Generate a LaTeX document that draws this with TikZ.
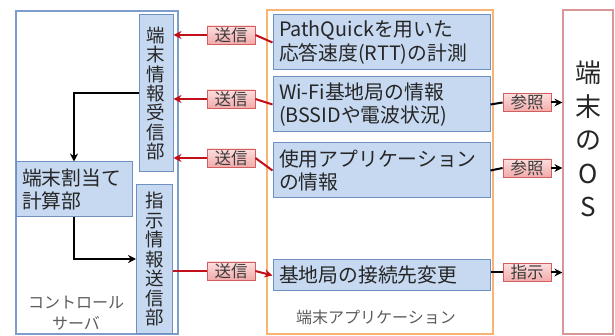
\documentclass[tikz,border=0pt]{standalone}
\usepackage{fontspec}
\setmainfont{Noto Sans CJK JP}
\usetikzlibrary{arrows.meta,shadows}
\definecolor{bfill}{RGB}{198,217,241}
\definecolor{bdraw}{RGB}{110,145,192}
\definecolor{sdraw}{RGB}{125,158,205}
\definecolor{odraw}{RGB}{248,180,115}
\definecolor{osdraw}{RGB}{218,150,150}
\definecolor{rline}{RGB}{195,15,25}
\definecolor{ldraw}{RGB}{210,95,95}
\definecolor{ltop}{RGB}{253,222,222}
\definecolor{lbot}{RGB}{242,170,170}
\definecolor{txt}{RGB}{38,38,38}
\newcommand\vchars[2]{\vbox{\baselineskip=#1\lineskiplimit=-100pt\lineskip=0pt #2}}
\tikzset{
  bluebox/.style={draw=bdraw,line width=1pt,fill=bfill,inner sep=0pt,text=txt},
  vtext/.style={bluebox,font=\fontsize{18.5}{19.5}\selectfont},
  htext/.style={bluebox,align=left,text width=#1,font=\fontsize{19.8}{23.5}\selectfont,inner xsep=6pt},
  lbl/.style={draw=ldraw,line width=0.8pt,top color=ltop,bottom color=lbot,minimum width=48pt,minimum height=18pt,inner sep=0pt,font=\fontsize{16.5}{17}\selectfont,text=txt!90,drop shadow={shadow xshift=1pt,shadow yshift=-1pt,opacity=0.3}},
  redarr/.style={draw=rline,line width=2pt,-{Stealth[length=8pt,width=8pt]}},
  redln/.style={draw=rline,line width=2pt},
  blkarr/.style={draw=black,line width=2pt,-{Stealth[length=8pt,width=8pt]}},
  blkln/.style={draw=black,line width=2pt},
}
\begin{document}
\begin{tikzpicture}[x=1pt,y=1pt]
\useasboundingbox (0,0) rectangle (615,-336);
% containers
\node[draw=sdraw,line width=1.2pt,minimum width=162pt,minimum height=323pt,inner sep=0pt] (server) at (97,-172.5) {};
\node[draw=odraw,line width=1.2pt,minimum width=226pt,minimum height=324pt,inner sep=0pt] (app) at (380,-172) {};
\node[draw=osdraw,line width=1.2pt,minimum width=50pt,minimum height=324pt,inner sep=0pt] (os) at (588,-172) {};
% container labels
\node[align=center,font=\fontsize{16}{20.5}\selectfont,text=txt!75] (srvlbl) at (76,-313) {コントロール\\サーバ};
\node[font=\fontsize{16}{17}\selectfont,text=txt!75] (applbl) at (376,-317) {端末アプリケーション};
\node[align=center,font=\fontsize{26}{33.5}\selectfont,text=txt] (ostxt) at (588,-139) {端\\末\\の\\O\\S};
% server parts
\node[vtext,minimum width=34pt,minimum height=157pt] (rcv) at (156,-93.5) {\vchars{19.4pt}{\hbox{端}\hbox{末}\hbox{情}\hbox{報}\hbox{受}\hbox{信}\hbox{部}}};
\node[vtext,minimum width=36pt,minimum height=148pt] (snd) at (154.5,-259) {\vchars{19.5pt}{\hbox{指}\hbox{示}\hbox{情}\hbox{報}\hbox{送}\hbox{信}\hbox{部}}};
\node[htext=104pt,minimum height=55pt] (calc) at (74,-189.5) {端末割当て\\計算部};
% app parts
\node[htext=205pt,minimum height=55pt] (pq) at (381.5,-42.5) {PathQuickを用いた\\応答速度(RTT)の計測};
\node[htext=205pt,minimum height=55pt] (wifi) at (381.5,-104.5) {Wi-Fi基地局の情報\\(BSSIDや電波状況)};
\node[htext=205pt,minimum height=55pt] (use) at (381.5,-170.5) {使用アプリケーション\\の情報};
\node[htext=205pt,minimum height=31pt] (chg) at (381.5,-275.5) {基地局の接続先変更};
% labels
\node[lbl] (s1) at (231,-35) {送信};
\node[lbl] (s2) at (231,-99) {送信};
\node[lbl] (s3) at (231,-158) {送信};
\node[lbl] (s4) at (231,-271) {送信};
\node[lbl] (r1) at (527,-102.5) {参照};
\node[lbl] (r2) at (527,-168) {参照};
\node[lbl] (i1) at (527,-272.5) {指示};
% red connectors
\draw[redln] (pq.west) -- (s1.east);
\draw[redarr] (s1.west) -- (rcv.east |- s1.west);
\draw[redln] (wifi.west) -- (s2.east);
\draw[redarr] (s2.west) -- (rcv.east |- s2.west);
\draw[redln] (use.west) -- (s3.east);
\draw[redarr] (s3.west) -- (rcv.east |- s3.west);
\draw[redln] (snd.east |- s4.west) -- (s4.west);
\draw[redarr] (s4.east) -- (chg.west);
% black connectors
\draw[blkln] (wifi.east) -- (r1.west);
\draw[blkarr] (r1.east) -- (os.west |- r1.east);
\draw[blkln] (use.east) -- (r2.west);
\draw[blkarr] (r2.east) -- (os.west |- r2.east);
\draw[blkln] (chg.east |- i1.west) -- (i1.west);
\draw[blkarr] (i1.east) -- (os.west |- i1.east);
\draw[blkarr] (rcv.west) -| (calc.north);
\draw[blkarr] (calc.south) |- (snd.west);
\end{tikzpicture}
\end{document}
